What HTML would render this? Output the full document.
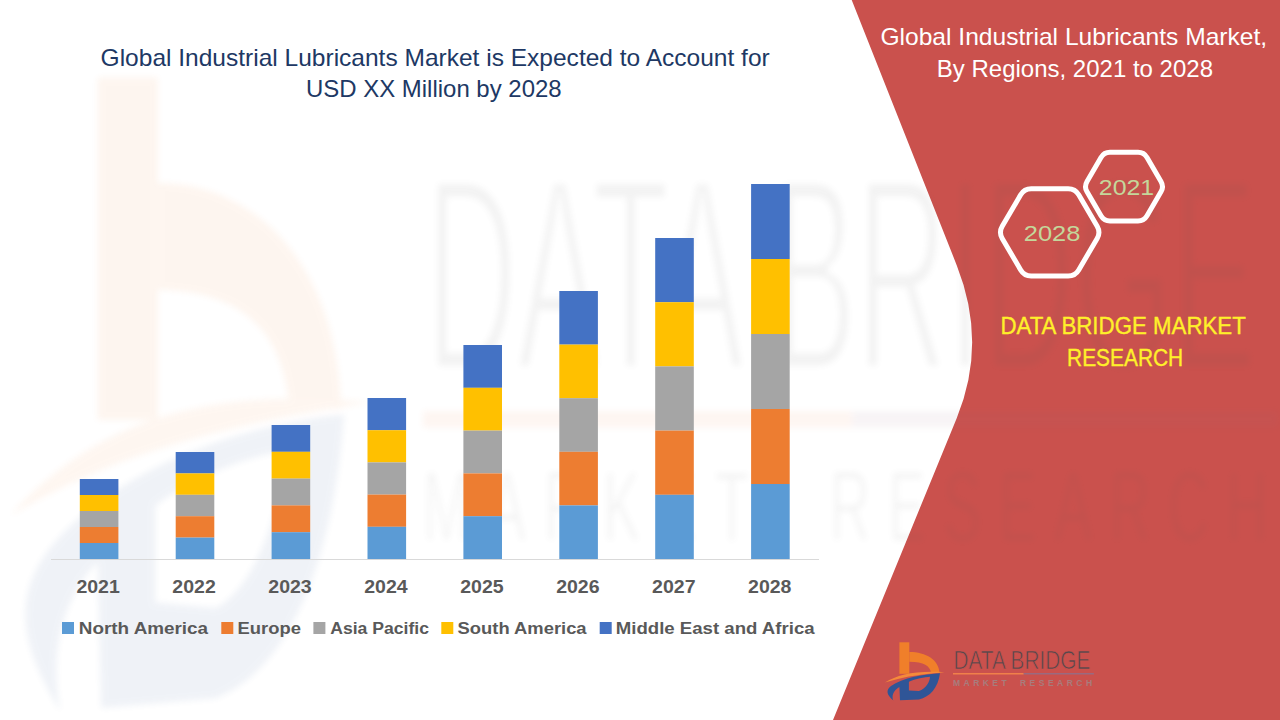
<!DOCTYPE html>
<html><head><meta charset="utf-8">
<style>
html,body{margin:0;padding:0;}
body{width:1280px;height:720px;overflow:hidden;background:#fff;position:relative;font-family:"Liberation Sans",sans-serif;}
svg{position:absolute;left:0;top:0;}
text{font-family:"Liberation Sans",sans-serif;}
.t1{font-size:23.2px;fill:#203864;}
.t2{font-size:23.2px;fill:#ffffff;}
.yl{font-weight:bold;font-size:18px;fill:#595959;}
.lg{font-weight:bold;font-size:17.4px;fill:#595959;}
.hx{font-size:22.5px;fill:#C4D79B;}
.dbm{font-size:23.2px;fill:#FFF02A;stroke:#FFF02A;stroke-width:0.35px;}
.lt{font-size:25.4px;fill:#55484C;stroke:#CA514D;stroke-width:0.7px;}
.lm{font-size:8.6px;font-weight:bold;fill:#A87C7C;}
.wt{font-size:25.4px;fill:#555555;}
.wm{font-size:9.25px;fill:#555555;}
.wtm{font-size:25.4px;fill:#fff;stroke:#000;stroke-width:0.8px;}
.wmm{font-size:9.25px;fill:#fff;stroke:#000;stroke-width:0.25px;}
</style></head><body>
<svg width="1280" height="720" viewBox="0 0 1280 720">
<defs>
<filter id="blur" x="-10%" y="-10%" width="120%" height="120%"><feGaussianBlur stdDeviation="3"/></filter>
<mask id="wmk" maskUnits="userSpaceOnUse" x="0" y="0" width="1280" height="720"><g transform="matrix(6.07,0,0,10.87,-5361.7,-6904.3)"><text x="953.5" y="669.2" textLength="136.8" lengthAdjust="spacingAndGlyphs" class="wtm">DATA BRIDGE</text>
<text x="953" y="684.9" textLength="53.7" lengthAdjust="spacing" class="wmm">MARKET</text>
<text x="1020" y="684.9" textLength="72.1" lengthAdjust="spacing" class="wmm">RESEARCH</text></g></mask>
</defs>
<!-- red panel -->
<path d="M851.7,0 L956.8,265.4 Q987.55,343.05 956.8,418 L833,720 L1280,720 L1280,0 Z" fill="#CA514D"/>
<!-- watermark -->
<g opacity="0.07" filter="url(#blur)">
<g transform="matrix(6.07,0,0,10.87,-5361.7,-6904.3)">

<rect x="899.4" y="642.3" width="9.9" height="31.5" fill="#F07F2A"/>
<path d="M909.3,652 C926,652 939,660 939.5,672.8 L931,672.8 C930,666 924,662 909.3,661.8 Z" fill="#F07F2A"/>
<path d="M885,682.6 C898,674.6 915,670.6 944.5,672.2 C915,674.6 899,678 885,682.6 Z" fill="#F58A3A"/>
<path fill-rule="evenodd" d="M940,673.3 C925,674 902,678 891,686 C886,690 886,694 893.3,700.6 C891.5,696 893,690.5 899.4,686.9 L900,700.3 L918.9,699.4 C930,697 938,688 940,673.3 Z M908.9,681.7 C915,679 925,677 930,676.7 C930,681 926,689 918.9,691.1 L908.9,690.6 Z" fill="#2F5597"/>
<rect x="953" y="673" width="70.7" height="1.5" fill="#F0804A"/>
<rect x="1023.7" y="673" width="70.2" height="1.5" fill="#9A6A80"/>

</g>
<rect x="0" y="0" width="1280" height="720" fill="#555555" mask="url(#wmk)"/>
</g>
<!-- axis -->
<rect x="51" y="559" width="768" height="1" fill="#D9D9D9"/>
<rect x="79.80" y="479.00" width="38.6" height="16.02" fill="#4472C4"/>
<rect x="79.80" y="495.00" width="38.6" height="16.02" fill="#FFC000"/>
<rect x="79.80" y="511.00" width="38.6" height="16.02" fill="#A5A5A5"/>
<rect x="79.80" y="527.00" width="38.6" height="16.02" fill="#ED7D31"/>
<rect x="79.80" y="543.00" width="38.6" height="16.02" fill="#5B9BD5"/>
<rect x="175.70" y="452.00" width="38.6" height="21.42" fill="#4472C4"/>
<rect x="175.70" y="473.40" width="38.6" height="21.42" fill="#FFC000"/>
<rect x="175.70" y="494.80" width="38.6" height="21.42" fill="#A5A5A5"/>
<rect x="175.70" y="516.20" width="38.6" height="21.42" fill="#ED7D31"/>
<rect x="175.70" y="537.60" width="38.6" height="21.42" fill="#5B9BD5"/>
<rect x="271.60" y="425.00" width="38.6" height="26.82" fill="#4472C4"/>
<rect x="271.60" y="451.80" width="38.6" height="26.82" fill="#FFC000"/>
<rect x="271.60" y="478.60" width="38.6" height="26.82" fill="#A5A5A5"/>
<rect x="271.60" y="505.40" width="38.6" height="26.82" fill="#ED7D31"/>
<rect x="271.60" y="532.20" width="38.6" height="26.82" fill="#5B9BD5"/>
<rect x="367.50" y="398.00" width="38.6" height="32.22" fill="#4472C4"/>
<rect x="367.50" y="430.20" width="38.6" height="32.22" fill="#FFC000"/>
<rect x="367.50" y="462.40" width="38.6" height="32.22" fill="#A5A5A5"/>
<rect x="367.50" y="494.60" width="38.6" height="32.22" fill="#ED7D31"/>
<rect x="367.50" y="526.80" width="38.6" height="32.22" fill="#5B9BD5"/>
<rect x="463.40" y="345.00" width="38.6" height="42.82" fill="#4472C4"/>
<rect x="463.40" y="387.80" width="38.6" height="42.82" fill="#FFC000"/>
<rect x="463.40" y="430.60" width="38.6" height="42.82" fill="#A5A5A5"/>
<rect x="463.40" y="473.40" width="38.6" height="42.82" fill="#ED7D31"/>
<rect x="463.40" y="516.20" width="38.6" height="42.82" fill="#5B9BD5"/>
<rect x="559.30" y="291.00" width="38.6" height="53.62" fill="#4472C4"/>
<rect x="559.30" y="344.60" width="38.6" height="53.62" fill="#FFC000"/>
<rect x="559.30" y="398.20" width="38.6" height="53.62" fill="#A5A5A5"/>
<rect x="559.30" y="451.80" width="38.6" height="53.62" fill="#ED7D31"/>
<rect x="559.30" y="505.40" width="38.6" height="53.62" fill="#5B9BD5"/>
<rect x="655.20" y="238.00" width="38.6" height="64.22" fill="#4472C4"/>
<rect x="655.20" y="302.20" width="38.6" height="64.22" fill="#FFC000"/>
<rect x="655.20" y="366.40" width="38.6" height="64.22" fill="#A5A5A5"/>
<rect x="655.20" y="430.60" width="38.6" height="64.22" fill="#ED7D31"/>
<rect x="655.20" y="494.80" width="38.6" height="64.22" fill="#5B9BD5"/>
<rect x="751.10" y="184.00" width="38.6" height="75.02" fill="#4472C4"/>
<rect x="751.10" y="259.00" width="38.6" height="75.02" fill="#FFC000"/>
<rect x="751.10" y="334.00" width="38.6" height="75.02" fill="#A5A5A5"/>
<rect x="751.10" y="409.00" width="38.6" height="75.02" fill="#ED7D31"/>
<rect x="751.10" y="484.00" width="38.6" height="75.02" fill="#5B9BD5"/>
<text x="76.40" y="592.6" textLength="43.4" lengthAdjust="spacingAndGlyphs" class="yl">2021</text>
<text x="172.35" y="592.6" textLength="43.4" lengthAdjust="spacingAndGlyphs" class="yl">2022</text>
<text x="268.30" y="592.6" textLength="43.4" lengthAdjust="spacingAndGlyphs" class="yl">2023</text>
<text x="364.25" y="592.6" textLength="43.4" lengthAdjust="spacingAndGlyphs" class="yl">2024</text>
<text x="460.20" y="592.6" textLength="43.4" lengthAdjust="spacingAndGlyphs" class="yl">2025</text>
<text x="556.15" y="592.6" textLength="43.4" lengthAdjust="spacingAndGlyphs" class="yl">2026</text>
<text x="652.10" y="592.6" textLength="43.4" lengthAdjust="spacingAndGlyphs" class="yl">2027</text>
<text x="748.05" y="592.6" textLength="43.4" lengthAdjust="spacingAndGlyphs" class="yl">2028</text>
<rect x="62" y="622" width="12" height="12" fill="#5B9BD5"/>
<text x="78.8" y="633.9" textLength="129.3" lengthAdjust="spacingAndGlyphs" class="lg">North America</text>
<rect x="221.3" y="622" width="12" height="12" fill="#ED7D31"/>
<text x="237.6" y="633.9" textLength="63.4" lengthAdjust="spacingAndGlyphs" class="lg">Europe</text>
<rect x="313.4" y="622" width="12" height="12" fill="#A5A5A5"/>
<text x="330.2" y="633.9" textLength="98.8" lengthAdjust="spacingAndGlyphs" class="lg">Asia Pacific</text>
<rect x="441.3" y="622" width="12" height="12" fill="#FFC000"/>
<text x="457.6" y="633.9" textLength="129.0" lengthAdjust="spacingAndGlyphs" class="lg">South America</text>
<rect x="599.7" y="622" width="12" height="12" fill="#4472C4"/>
<text x="615.8" y="633.9" textLength="198.8" lengthAdjust="spacingAndGlyphs" class="lg">Middle East and Africa</text>
<!-- titles -->
<text x="100.6" y="65.6" textLength="669.1" lengthAdjust="spacingAndGlyphs" class="t1">Global Industrial Lubricants Market is Expected to Account for</text>
<text x="306" y="97.4" textLength="255.6" lengthAdjust="spacingAndGlyphs" class="t1">USD XX Million by 2028</text>
<text x="880.4" y="44.5" textLength="386.8" lengthAdjust="spacingAndGlyphs" class="t2">Global Industrial Lubricants Market,</text>
<text x="936.8" y="76.5" textLength="276.2" lengthAdjust="spacingAndGlyphs" class="t2">By Regions, 2021 to 2028</text>
<!-- hexagons -->
<path d="M1002.23,238.44 Q998.70,232.40 1002.23,226.36 L1020.67,194.84 Q1024.20,188.80 1031.20,188.80 L1068.20,188.80 Q1075.20,188.80 1078.73,194.84 L1097.17,226.36 Q1100.70,232.40 1097.17,238.44 L1078.73,269.96 Q1075.20,276.00 1068.20,276.00 L1031.20,276.00 Q1024.20,276.00 1020.67,269.96 Z" fill="none" stroke="#fff" stroke-width="5" stroke-linejoin="round"/>
<path d="M1087.02,191.78 Q1084.00,186.60 1087.02,181.42 L1100.98,157.48 Q1104.00,152.30 1110.00,152.30 L1138.00,152.30 Q1144.00,152.30 1147.02,157.48 L1160.98,181.42 Q1164.00,186.60 1160.98,191.78 L1147.02,215.72 Q1144.00,220.90 1138.00,220.90 L1110.00,220.90 Q1104.00,220.90 1100.98,215.72 Z" fill="none" stroke="#fff" stroke-width="5" stroke-linejoin="round"/>
<text x="1023.8" y="240.6" textLength="56.6" lengthAdjust="spacingAndGlyphs" class="hx">2028</text>
<text x="1098.8" y="194.8" textLength="55.4" lengthAdjust="spacingAndGlyphs" class="hx">2021</text>
<text x="1000.4" y="333.9" textLength="245.4" lengthAdjust="spacingAndGlyphs" class="dbm">DATA BRIDGE MARKET</text>
<text x="1067.1" y="365.8" textLength="116.1" lengthAdjust="spacingAndGlyphs" class="dbm">RESEARCH</text>
<!-- logo -->

<rect x="899.4" y="642.3" width="9.9" height="31.5" fill="#F07F2A"/>
<path d="M909.3,652 C926,652 939,660 939.5,672.8 L931,672.8 C930,666 924,662 909.3,661.8 Z" fill="#F07F2A"/>
<path d="M885,682.6 C898,674.6 915,670.6 944.5,672.2 C915,674.6 899,678 885,682.6 Z" fill="#F58A3A"/>
<path fill-rule="evenodd" d="M940,673.3 C925,674 902,678 891,686 C886,690 886,694 893.3,700.6 C891.5,696 893,690.5 899.4,686.9 L900,700.3 L918.9,699.4 C930,697 938,688 940,673.3 Z M908.9,681.7 C915,679 925,677 930,676.7 C930,681 926,689 918.9,691.1 L908.9,690.6 Z" fill="#2F5597"/>
<rect x="953" y="673" width="70.7" height="1.5" fill="#F0804A"/>
<rect x="1023.7" y="673" width="70.2" height="1.5" fill="#9A6A80"/>
<text x="953.5" y="669.2" textLength="136.8" lengthAdjust="spacingAndGlyphs" class="lt">DATA BRIDGE</text>
<text x="953" y="686.2" textLength="53.7" lengthAdjust="spacing" class="lm">MARKET</text>
<text x="1020" y="686.2" textLength="72.1" lengthAdjust="spacing" class="lm">RESEARCH</text>
</svg>
</body></html>
